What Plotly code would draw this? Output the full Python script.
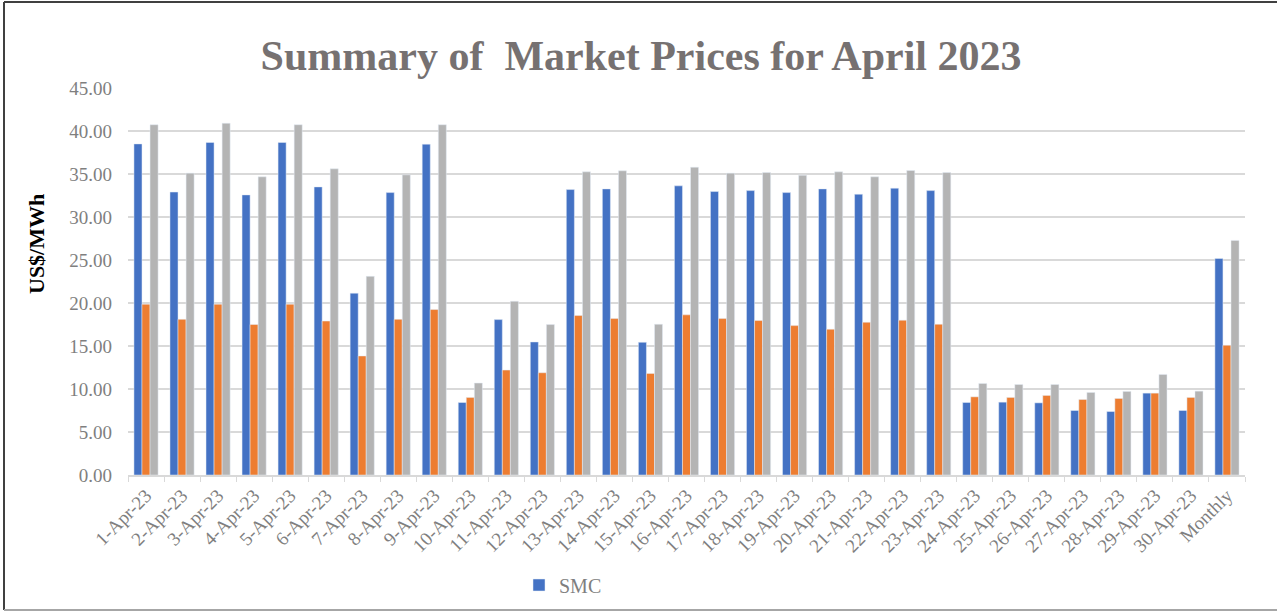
import plotly.graph_objects as go

categories = ["1-Apr-23","2-Apr-23","3-Apr-23","4-Apr-23","5-Apr-23","6-Apr-23","7-Apr-23","8-Apr-23",
              "9-Apr-23","10-Apr-23","11-Apr-23","12-Apr-23","13-Apr-23","14-Apr-23","15-Apr-23",
              "16-Apr-23","17-Apr-23","18-Apr-23","19-Apr-23","20-Apr-23","21-Apr-23","22-Apr-23",
              "23-Apr-23","24-Apr-23","25-Apr-23","26-Apr-23","27-Apr-23","28-Apr-23","29-Apr-23",
              "30-Apr-23","Monthly"]

smc = [38.50, 32.90, 38.67, 32.57, 38.67, 33.50, 21.14, 32.84, 38.47, 8.43, 18.07, 15.47, 33.19,
       33.27, 15.43, 33.62, 32.96, 33.07, 32.84, 33.27, 32.65, 33.35, 33.07, 8.43, 8.47, 8.39,
       7.50, 7.38, 9.52, 7.50, 25.18]
series2 = [19.86, 18.10, 19.86, 17.50, 19.86, 17.90, 13.84, 18.10, 19.24, 9.02, 12.20, 11.89, 18.54,
           18.19, 11.81, 18.62, 18.19, 17.96, 17.37, 16.95, 17.76, 18.00, 17.53, 9.09, 9.02, 9.25,
           8.78, 8.90, 9.52, 9.02, 15.08]
series3 = [40.73, 35.10, 40.90, 34.67, 40.73, 35.60, 23.10, 34.90, 40.73, 10.69, 20.20, 17.49, 35.25,
           35.37, 17.53, 35.79, 35.10, 35.17, 34.86, 35.25, 34.67, 35.40, 35.17, 10.65, 10.53, 10.53,
           9.60, 9.72, 11.70, 9.75, 27.28]

serif = "Liberation Serif"
W, H = 1277, 612
L, R, T, B = 128, 32, 88, 137
pw, ph = W - L - R, H - T - B

def px_x(x):
    return (x - L) / pw

def px_y(y):
    return (H - B - y) / ph

fig = go.Figure()
fig.add_trace(go.Bar(x=categories, y=smc, name="SMC", marker_color="#4472C4", showlegend=True))
fig.add_trace(go.Bar(x=categories, y=series2, name=" ", marker_color="#ED7D31", showlegend=False))
fig.add_trace(go.Bar(x=categories, y=series3, name="  ", marker_color="#B4B4B4", showlegend=False))

fig.update_layout(
    width=W, height=H,
    margin=dict(l=L, r=R, t=T, b=B, autoexpand=False),
    paper_bgcolor="white", plot_bgcolor="white",
    barmode="group", bargap=0.33, bargroupgap=0,
    title=dict(text="<b>Summary of  Market Prices for April 2023</b>", x=0.502, xanchor="center",
               y=1 - 55 / H, yanchor="middle",
               font=dict(family=serif, size=42, color="#767171")),
    font=dict(family=serif, color="#7f7f7f"),
    legend=dict(orientation="h", x=px_x(519), xanchor="left", y=px_y(585), yanchor="middle",
                font=dict(family=serif, size=20, color="#7f7f7f"), itemwidth=30,
                traceorder="normal"),
    showlegend=True,
)
fig.update_xaxes(tickangle=-45, tickfont=dict(family=serif, size=19, color="#7f7f7f"),
                 showline=True, linecolor="#d9d9d9", linewidth=2,
                 ticks="outside", tickson="boundaries", ticklen=5, tickcolor="#d9d9d9",
                 showgrid=False, automargin=False)
fig.update_yaxes(range=[0, 45], dtick=5, tickformat=".2f",
                 tickfont=dict(family=serif, size=19, color="#7f7f7f"),
                 gridcolor="#d9d9d9", gridwidth=2, zeroline=False, showline=False,
                 ticks="", ticklabelstandoff=15, automargin=False)
fig.add_annotation(text="<b>US$/MWh</b>", xref="paper", yref="paper",
                   x=px_x(36), y=px_y(244), xanchor="center", yanchor="middle",
                   textangle=-90, showarrow=False,
                   font=dict(family=serif, size=22, color="black"))
# chart frame
fig.add_shape(type="line", xref="paper", yref="paper", x0=px_x(4), x1=px_x(1290),
              y0=px_y(2), y1=px_y(2), line=dict(color="#404040", width=2))
fig.add_shape(type="line", xref="paper", yref="paper", x0=px_x(4), x1=px_x(4),
              y0=px_y(2), y1=px_y(610), line=dict(color="#404040", width=2))
fig.add_shape(type="line", xref="paper", yref="paper", x0=px_x(4), x1=px_x(1290),
              y0=px_y(610), y1=px_y(610), line=dict(color="#a6a6a6", width=2))

post = ("document.documentElement.style.margin='0';document.documentElement.style.padding='0';"
        "document.documentElement.style.overflow='hidden';"
        "document.body.style.margin='0';document.body.style.padding='0';"
        "document.body.style.overflow='hidden';")
fig.write_html("out.html", config={"displayModeBar": False}, post_script=post)
